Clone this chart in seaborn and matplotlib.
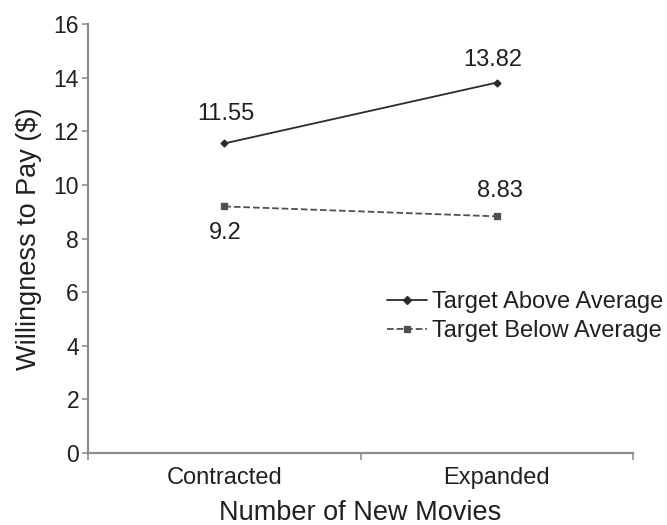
import matplotlib
matplotlib.use("Agg")
import matplotlib.pyplot as plt
import seaborn as sns
import pandas as pd
from matplotlib.ticker import FixedLocator

categories = ["Contracted", "Expanded"]
series_names = ["Target Above Average", "Target Below Average"]
above_values = [11.55, 13.82]
below_values = [9.2, 8.83]
y_ticks = [0, 2, 4, 6, 8, 10, 12, 14, 16]

df = pd.DataFrame({
    "movies": categories * 2,
    "wtp": above_values + below_values,
    "group": [series_names[0]] * 2 + [series_names[1]] * 2,
})

sns.set_theme(style="white")
plt.rcParams["font.family"] = ["Liberation Sans", "DejaVu Sans"]
text_color = "#231f20"
spine_color = "#8c8c8c"

fig = plt.figure(figsize=(6.67, 5.25), dpi=100)
ax = fig.add_axes([0.132, 0.137, 0.817, 0.817])

sns.pointplot(
    data=df, x="movies", y="wtp", hue="group", order=categories,
    hue_order=series_names, palette=["#2b2b2b", "#505050"],
    markers=["D", "s"], linestyles=["-", "--"], ax=ax,
    markersize=4, linewidth=1.3, legend=True,
)
ax.lines[0].set_markersize(3.5)
ax.lines[1].set_markersize(5)
ax.lines[1].set_dashes([5, 3])

ax.set_xlim(-0.5, 1.5)
ax.set_ylim(0, 16)
ax.yaxis.set_major_locator(FixedLocator(y_ticks))

for s in ["top", "right"]:
    ax.spines[s].set_visible(False)
for s in ["left", "bottom"]:
    ax.spines[s].set_color(spine_color)
    ax.spines[s].set_linewidth(1.6)

ax.tick_params(axis="y", direction="out", length=4.5, width=1.2, color=spine_color,
               labelsize=16.5, labelcolor=text_color, left=True, pad=2)
ax.tick_params(axis="x", which="major", length=0, labelsize=17,
               labelcolor=text_color, pad=10)
ax.xaxis.set_minor_locator(FixedLocator([-0.5, 0.5, 1.5]))
ax.tick_params(axis="x", which="minor", direction="out", length=5, width=1.2,
               color=spine_color, bottom=True)

ax.set_xlabel("Number of New Movies", fontsize=19.5, color=text_color, labelpad=8)
ax.set_ylabel("Willingness to Pay ($)", fontsize=19.5, color=text_color, labelpad=8)

# value labels: (value, x index, vertical offset in points, horizontal offset)
labels = [
    (above_values[0], 0, 21.5, 1),
    (above_values[1], 1, 16.5, -3),
    (below_values[0], 0, -19, 1),
    (below_values[1], 1, 18, 2),
]
for v, i, dy, dx in labels:
    ax.annotate(f"{v:g}", (i, v), xytext=(dx, dy), textcoords="offset points",
                ha="center", va="center", fontsize=17, color=text_color)

leg = ax.legend(loc="upper left", bbox_to_anchor=(0.548, 0.378), frameon=False,
                fontsize=17, handlelength=1.7, handletextpad=0.2,
                labelspacing=0.32, borderaxespad=0, borderpad=0)
for t in leg.get_texts():
    t.set_color(text_color)

fig.savefig("out.png", dpi=100)
